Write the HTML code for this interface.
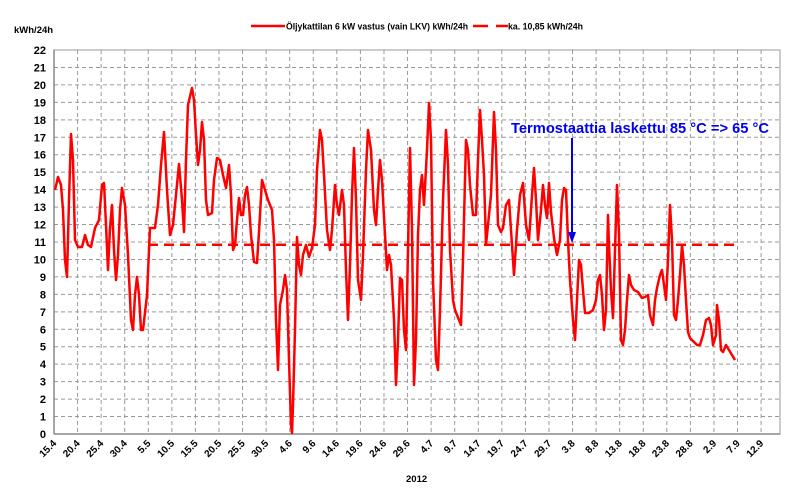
<!DOCTYPE html>
<html><head><meta charset="utf-8"><style>
html,body{margin:0;padding:0;background:#fff;}
svg{display:block;font-family:"Liberation Sans",sans-serif;}
</style></head><body>
<svg width="800" height="495" viewBox="0 0 800 495" xmlns="http://www.w3.org/2000/svg">
<path stroke="#999" stroke-width="1" stroke-dasharray="4,3" fill="none" d="M54 416.55H780M54 399.09H780M54 381.64H780M54 364.18H780M54 346.73H780M54 329.27H780M54 311.82H780M54 294.36H780M54 276.91H780M54 259.45H780M54 242H780M54 224.55H780M54 207.09H780M54 189.64H780M54 172.18H780M54 154.73H780M54 137.27H780M54 119.82H780M54 102.36H780M54 84.91H780M54 67.45H780
M77.57 50V434M101.14 50V434M124.71 50V434M148.28 50V434M171.85 50V434M195.42 50V434M218.99 50V434M242.56 50V434M266.13 50V434M289.7 50V434M313.27 50V434M336.84 50V434M360.41 50V434M383.98 50V434M407.55 50V434M431.12 50V434M454.69 50V434M478.26 50V434M501.83 50V434M525.4 50V434M548.97 50V434M572.54 50V434M596.11 50V434M619.68 50V434M643.25 50V434M666.82 50V434M690.39 50V434M713.96 50V434M737.53 50V434M761.1 50V434"/>
<rect x="54" y="50" width="726" height="384" fill="none" stroke="#999" stroke-width="1"/>
<line x1="54" y1="434" x2="780" y2="434" stroke="#888" stroke-width="1.5"/>
<line x1="54" y1="50" x2="54" y2="434" stroke="#888" stroke-width="1.5"/>
<g font-size="11" font-weight="bold" text-anchor="end" fill="#000">
<text x="46" y="438">0</text><text x="46" y="420.5">1</text><text x="46" y="403">2</text><text x="46" y="385.6">3</text><text x="46" y="368.2">4</text><text x="46" y="350.7">5</text><text x="46" y="333.3">6</text><text x="46" y="315.8">7</text><text x="46" y="298.4">8</text><text x="46" y="280.9">9</text><text x="46" y="263.5">10</text><text x="46" y="246">11</text><text x="46" y="228.5">12</text><text x="46" y="211.1">13</text><text x="46" y="193.6">14</text><text x="46" y="176.2">15</text><text x="46" y="158.7">16</text><text x="46" y="141.3">17</text><text x="46" y="123.8">18</text><text x="46" y="106.4">19</text><text x="46" y="88.9">20</text><text x="46" y="71.5">21</text><text x="46" y="54">22</text>
</g>
<g font-size="10" font-weight="bold" text-anchor="end" fill="#000">
<text transform="translate(57,444) rotate(-45)">15.4</text>
<text transform="translate(80.6,444) rotate(-45)">20.4</text>
<text transform="translate(104.1,444) rotate(-45)">25.4</text>
<text transform="translate(127.7,444) rotate(-45)">30.4</text>
<text transform="translate(151.3,444) rotate(-45)">5.5</text>
<text transform="translate(174.9,444) rotate(-45)">10.5</text>
<text transform="translate(198.4,444) rotate(-45)">15.5</text>
<text transform="translate(222,444) rotate(-45)">20.5</text>
<text transform="translate(245.6,444) rotate(-45)">25.5</text>
<text transform="translate(269.1,444) rotate(-45)">30.5</text>
<text transform="translate(292.7,444) rotate(-45)">4.6</text>
<text transform="translate(316.3,444) rotate(-45)">9.6</text>
<text transform="translate(339.8,444) rotate(-45)">14.6</text>
<text transform="translate(363.4,444) rotate(-45)">19.6</text>
<text transform="translate(387,444) rotate(-45)">24.6</text>
<text transform="translate(410.6,444) rotate(-45)">29.6</text>
<text transform="translate(434.1,444) rotate(-45)">4.7</text>
<text transform="translate(457.7,444) rotate(-45)">9.7</text>
<text transform="translate(481.3,444) rotate(-45)">14.7</text>
<text transform="translate(504.8,444) rotate(-45)">19.7</text>
<text transform="translate(528.4,444) rotate(-45)">24.7</text>
<text transform="translate(552,444) rotate(-45)">29.7</text>
<text transform="translate(575.5,444) rotate(-45)">3.8</text>
<text transform="translate(599.1,444) rotate(-45)">8.8</text>
<text transform="translate(622.7,444) rotate(-45)">13.8</text>
<text transform="translate(646.3,444) rotate(-45)">18.8</text>
<text transform="translate(669.8,444) rotate(-45)">23.8</text>
<text transform="translate(693.4,444) rotate(-45)">28.8</text>
<text transform="translate(717,444) rotate(-45)">2.9</text>
<text transform="translate(740.5,444) rotate(-45)">7.9</text>
<text transform="translate(764.1,444) rotate(-45)">12.9</text>
</g>
<text x="14" y="33" font-size="9.5" font-weight="bold">kWh/24h</text>
<text x="406" y="482" font-size="9.5" font-weight="bold">2012</text>
<line x1="251" y1="26" x2="285" y2="26" stroke="red" stroke-width="2.5"/>
<text x="286" y="29.5" font-size="9" font-weight="bold" textLength="182" lengthAdjust="spacingAndGlyphs">Öljykattilan 6 kW vastus (vain LKV) kWh/24h</text>
<line x1="473" y1="26" x2="488" y2="26" stroke="red" stroke-width="2.5"/>
<line x1="496" y1="26" x2="508" y2="26" stroke="red" stroke-width="2.5"/>
<text x="508" y="29.5" font-size="9" font-weight="bold" textLength="75" lengthAdjust="spacingAndGlyphs">ka. 10,85 kWh/24h</text>
<line x1="148" y1="244.7" x2="736" y2="244.7" stroke="red" stroke-width="2.5" stroke-dasharray="10,6"/>
<polyline fill="none" stroke="red" stroke-width="2.5" stroke-linejoin="round" points="55,190 58,177 61,185 63,210 65,260 67,277 69,200 71,134 73,160 75,240 78,247 82,247 85,235 88,245 91,247 95,228 99,220 102,185 104,183 106,225 108,270 110,228 112,205 114,250 116,280 118,255 120,210 122,188 125,205 128,255 131,320 133,330 135,295 137,277 139,295 141,330 143,330 147,295 150,228 155,228 158,205 161,165 164,132 167,190 170,235 173,225 176,195 179,164 182,200 184,232 186,160 188,105 192,88 194,100 196,135 198,165 200,150 202,122 204,140 206,200 208,215 212,213 214,180 217,158 220,160 223,175 226,188 229,165 231,195 233,250 235,245 237,220 239,198 241,215 243,215 245,195 247,187 249,205 251,235 254,262 257,263 259,232 262,180 265,190 268,200 272,210 274,240 276,320 278,370 280,305 283,290 285,275 287,290 289,360 291,425 292,433 293,405 295,330 297,237 299,265 301,275 303,255 306,245 309,257 312,248 315,225 317,170 320,130 322,140 324,175 327,230 330,250 332,230 335,185 337,205 339,215 342,190 344,205 346,270 348,320 350,265 352,195 354,148 356,200 358,280 361,300 363,255 366,170 368,130 371,150 374,210 376,225 378,190 380,160 382,180 385,235 387,270 389,255 391,265 394,320 396,385 398,340 400,278 402,280 404,330 406,350 408,250 410,148 412,230 414,385 416,340 418,235 420,190 422,175 424,205 427,150 429,103 431,140 433,280 436,360 438,370 440,310 443,200 446,130 448,165 450,250 453,300 455,310 459,320 461,325 463,260 466,140 468,150 470,185 473,215 476,215 478,160 480,110 482,140 484,175 486,245 488,225 491,195 494,112 496,150 498,225 501,232 503,228 506,205 509,200 511,230 514,275 517,230 520,195 523,183 526,225 529,240 532,195 534,168 536,200 538,240 541,210 543,185 545,205 547,218 549,183 551,212 554,238 557,255 560,240 562,200 564,188 566,190 568,240 570,280 573,320 575,340 577,300 579,260 581,265 583,290 585,313 589,313 593,310 596,300 598,280 600,275 602,295 604,330 606,310 608,215 609,245 611,290 613,318 615,250 617,185 619,235 621,340 623,345 625,330 627,300 629,275 631,285 634,290 638,292 642,298 645,297 648,295 650,315 653,325 655,300 657,288 660,275 662,270 664,285 666,300 668,260 670,205 672,240 674,315 676,320 678,300 680,275 682,245 684,265 686,300 688,332 690,338 694,342 697,345 700,345 703,335 706,320 709,318 711,325 713,345 716,335 717,305 719,320 721,350 723,352 726,345 729,350 732,355 735,360"/>
<text x="511" y="133" font-size="15" font-weight="bold" fill="#0000ee" textLength="258" lengthAdjust="spacingAndGlyphs">Termostaattia laskettu 85 °C =&gt; 65 °C</text>
<line x1="572" y1="138" x2="572" y2="234" stroke="#0000ee" stroke-width="2"/>
<polygon points="568,232 576,232 572,243" fill="#0000ee"/>
</svg>
</body></html>
